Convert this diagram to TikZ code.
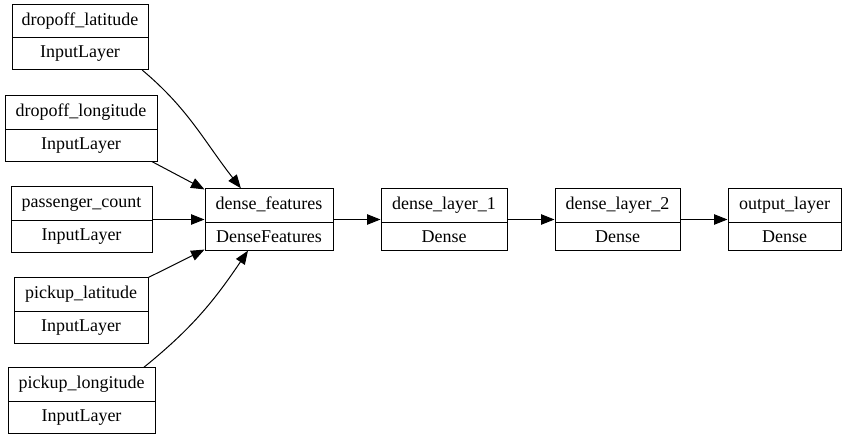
\documentclass[tikz,border=0pt]{standalone}
\usepackage{fontspec}
\setmainfont{Liberation Serif}
\usepackage{tikz}
\usetikzlibrary{arrows.meta}
\usetikzlibrary{shapes.multipart}

\begin{document}
\begin{tikzpicture}[x=1pt,y=1pt,
  layerbox/.style={draw, line width=1pt, rectangle split, rectangle split parts=2,
    align=center, inner xsep=0pt, inner ysep=7.5pt, text height=13pt, text depth=4.5pt,
    font=\fontsize{18}{21}\selectfont},
  flow/.style={line width=1pt, -{Triangle[length=13.5pt,width=10.5pt]}}]
\useasboundingbox (0,0) rectangle (846,440);
% draws input layers
\node[layerbox, text width=136pt] (dla) at (80,403) {dropoff\_latitude \nodepart{two} InputLayer};
\node[layerbox, text width=152pt] (dlo) at (81,311.5) {dropoff\_longitude \nodepart{two} InputLayer};
\node[layerbox, text width=141pt] (pc) at (81.5,220.5) {passenger\_count \nodepart{two} InputLayer};
\node[layerbox, text width=134pt] (pla) at (81,129.5) {pickup\_latitude \nodepart{two} InputLayer};
\node[layerbox, text width=147pt] (plo) at (81.5,39.5) {pickup\_longitude \nodepart{two} InputLayer};
% draws the other layers
\node[layerbox, text width=128pt] (df) at (269,220.5) {dense\_features \nodepart{two} DenseFeatures};
\node[layerbox, text width=126pt] (d1) at (444,220.5) {dense\_layer\_1 \nodepart{two} Dense};
\node[layerbox, text width=125pt] (d2) at (617.5,220.5) {dense\_layer\_2 \nodepart{two} Dense};
\node[layerbox, text width=113pt] (out) at (784.5,220.5) {output\_layer \nodepart{two} Dense};
% draws edges
\draw[flow] (dla.-28) to[out=-40,in=128] (df.132);
\draw[flow] (dlo.-25) to (df.155);
\draw[flow] (pc.east) to (df.west);
\draw[flow] (pla.north east) to (df.205);
\draw[flow] (plo.28) to[out=39,in=-124] (df.236);
\draw[flow] (df.east) to (d1.west);
\draw[flow] (d1.east) to (d2.west);
\draw[flow] (d2.east) to (out.west);
\end{tikzpicture}
\end{document}
